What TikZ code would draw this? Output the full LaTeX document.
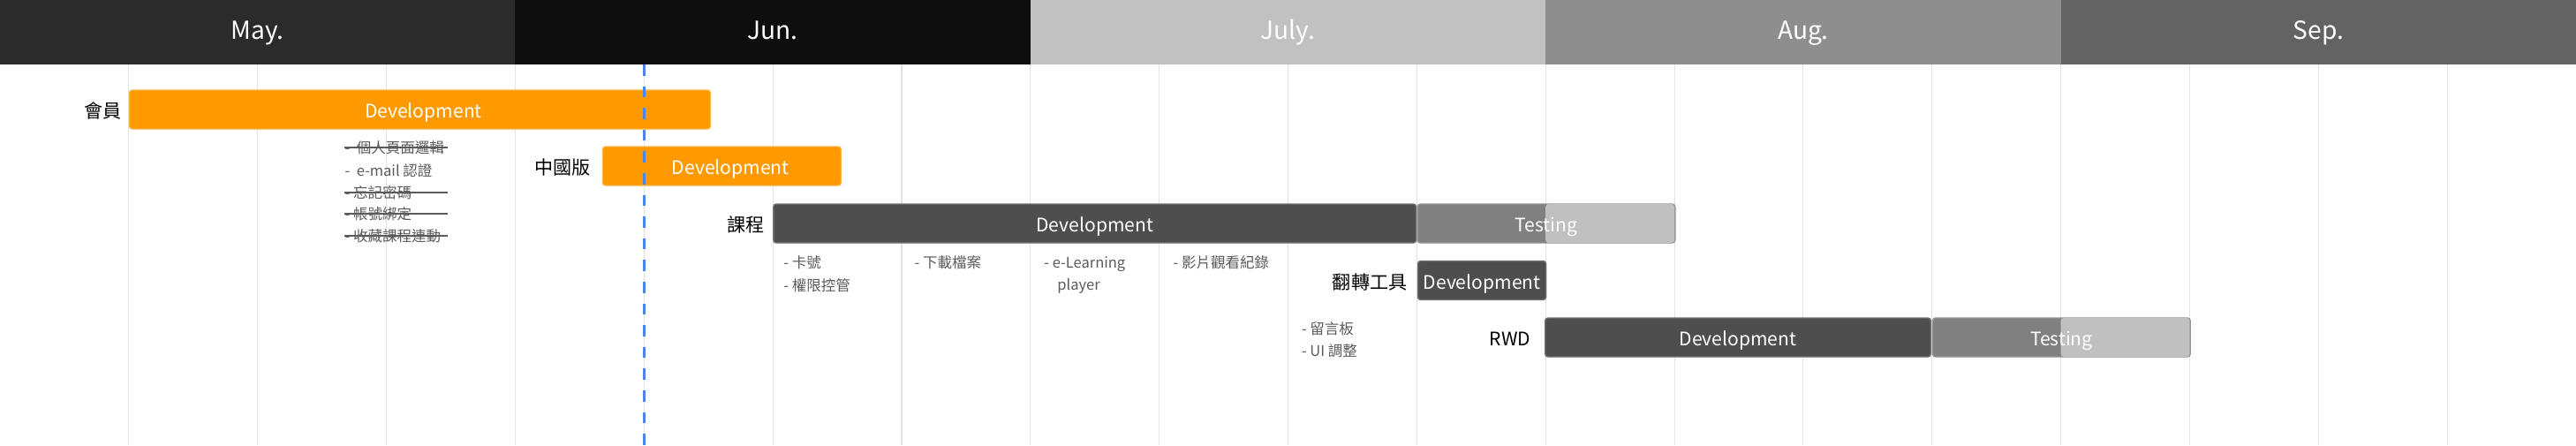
\documentclass[tikz,border=0pt]{standalone}
\usepackage{fontspec}
\setmainfont{Noto Sans CJK TC}
\definecolor{maycol}{HTML}{2B2B2B}
\definecolor{juncol}{HTML}{0E0E0E}
\definecolor{julcol}{HTML}{C1C1C1}
\definecolor{augcol}{HTML}{8E8E8E}
\definecolor{sepcol}{HTML}{636363}
\definecolor{gridgrey}{HTML}{E3E3E3}
\definecolor{todayblue}{HTML}{4A86E8}
\definecolor{barorange}{HTML}{FF9900}
\definecolor{bardark}{HTML}{4E4E4E}
\definecolor{barmid}{HTML}{808080}
\definecolor{barlight}{HTML}{C0C0C0}
\definecolor{notegrey}{HTML}{5A5A5A}
\tikzset{
  monthlabel/.style={anchor=base, text=white, font=\fontsize{8.0}{10}\selectfont},
  gridrule/.style={line width=0.3pt, draw=gridgrey},
  todayrule/.style={line width=0.85pt, draw=todayblue, dash pattern=on 3.6pt off 3.4pt},
  phasebar/.style={anchor=west, rounded corners=0.9pt, inner sep=0, minimum height=0.44cm,
    text=white, font=\fontsize{6.0}{7}\selectfont, text height=5.5pt, text depth=0pt},
  orangebar/.style={phasebar, fill=barorange, draw=barorange!75!white, line width=0.4pt},
  darkbar/.style={phasebar, fill=bardark, draw=bardark!80!white, line width=0.4pt},
  testbar/.style={phasebar, fill=barmid, draw=barmid!85!white, line width=0.4pt},
  testlight/.style={fill=barlight, rounded corners=0.9pt},
  bartext/.style={text=white, inner sep=0, font=\fontsize{6.0}{7}\selectfont, text height=5.5pt, text depth=0pt},
  rowlabel/.style={anchor=east, inner sep=0, font=\fontsize{6.0}{7}\selectfont, text height=6.28pt, text depth=0.72pt},
  noteitem/.style={anchor=west, inner sep=0, text=notegrey, font=\fontsize{4.7}{5}\selectfont, text height=4.14pt, text depth=0.56pt},
  strike/.style={line width=0.45pt, draw=notegrey},
}
\begin{document}
\begin{tikzpicture}
\useasboundingbox (0,0) rectangle (29.170,5.040);
\fill[maycol] (0,4.310) rectangle (5.834,5.040);
\fill[juncol] (5.834,4.310) rectangle (11.668,5.040);
\fill[julcol] (11.668,4.310) rectangle (17.502,5.040);
\fill[augcol] (17.502,4.310) rectangle (23.336,5.040);
\fill[sepcol] (23.336,4.310) rectangle (29.170,5.040);
\node[monthlabel] (may) at (2.917,4.595) {May.};
\node[monthlabel] (jun) at (8.751,4.595) {Jun.};
\node[monthlabel] (jul) at (14.585,4.595) {July.};
\node[monthlabel] (aug) at (20.419,4.595) {Aug.};
\node[monthlabel] (sep) at (26.253,4.595) {Sep.};
\draw[gridrule] (1.459,0) -- (1.459,4.310);
\draw[gridrule] (2.917,0) -- (2.917,4.310);
\draw[gridrule] (4.376,0) -- (4.376,4.310);
\draw[gridrule] (5.834,0) -- (5.834,4.310);
\draw[gridrule] (7.293,0) -- (7.293,4.310);
\draw[gridrule] (8.751,0) -- (8.751,4.310);
\draw[gridrule] (10.210,0) -- (10.210,4.310);
\draw[gridrule] (11.668,0) -- (11.668,4.310);
\draw[gridrule] (13.127,0) -- (13.127,4.310);
\draw[gridrule] (14.585,0) -- (14.585,4.310);
\draw[gridrule] (16.044,0) -- (16.044,4.310);
\draw[gridrule] (17.502,0) -- (17.502,4.310);
\draw[gridrule] (18.961,0) -- (18.961,4.310);
\draw[gridrule] (20.419,0) -- (20.419,4.310);
\draw[gridrule] (21.878,0) -- (21.878,4.310);
\draw[gridrule] (23.336,0) -- (23.336,4.310);
\draw[gridrule] (24.795,0) -- (24.795,4.310);
\draw[gridrule] (26.253,0) -- (26.253,4.310);
\draw[gridrule] (27.712,0) -- (27.712,4.310);
\node[orangebar, minimum width=6.577cm] (memberdev) at (1.459,3.800) {\hspace{0.08cm}Development};
\node[rowlabel] (member) at (1.380,3.800) {會員};
\node[orangebar, minimum width=2.697cm] (chinadev) at (6.818,3.160) {\hspace{0.2cm}Development};
\node[rowlabel] (china) at (6.690,3.160) {中國版};
\node[darkbar, minimum width=7.279cm] (coursedev) at (8.751,2.510) {Development};
\node[testbar, minimum width=2.917cm] (coursetest) at (16.044,2.510) {};
\fill[testlight] (17.502,2.290) rectangle (18.961,2.730);
\node[bartext] (coursetesttext) at (coursetest) {Testing};
\node[rowlabel] (course) at (8.660,2.510) {課程};
\node[darkbar, minimum width=1.452cm] (flipdev) at (16.048,1.865) {Development};
\node[rowlabel] (flip) at (15.940,1.865) {翻轉工具};
\node[darkbar, minimum width=4.367cm] (rwddev) at (17.490,1.220) {Development};
\node[testbar, minimum width=2.917cm] (rwdtest) at (21.878,1.220) {};
\fill[testlight] (23.336,1.000) rectangle (24.795,1.440);
\node[bartext] (rwdtesttext) at (rwdtest) {Testing};
\node[rowlabel] (rwd) at (17.340,1.220) {RWD};
\node[noteitem] (membernote1) at (3.900,3.370) {-\ \ 個人頁面邏輯};
\node[noteitem] (membernote2) at (3.900,3.110) {-\ \ e-mail 認證};
\node[noteitem] (membernote3) at (3.900,2.860) {- 忘記密碼};
\node[noteitem] (membernote4) at (3.900,2.620) {- 帳號綁定};
\node[noteitem] (membernote5) at (3.900,2.370) {- 收藏課程連動};
\draw[strike] (membernote1.west) -- ++(1.170,0);
\draw[strike] (membernote3.west) -- ++(1.170,0);
\draw[strike] (membernote4.west) -- ++(1.170,0);
\draw[strike] (membernote5.west) -- ++(1.170,0);
\node[noteitem] (coursenote1) at (8.867,2.070) {- 卡號};
\node[noteitem] (coursenote2) at (8.867,1.810) {- 權限控管};
\node[noteitem] (coursenote3) at (10.350,2.070) {- 下載檔案};
\node[noteitem] (coursenote4) at (11.817,2.070) {- e-Learning};
\node[noteitem] (coursenote5) at (11.967,1.820) {player};
\node[noteitem] (coursenote6) at (13.280,2.070) {- 影片觀看紀錄};
\node[noteitem] (rwdnote1) at (14.733,1.323) {- 留言板};
\node[noteitem] (rwdnote2) at (14.733,1.073) {- UI 調整};
\draw[todayrule] (7.293,4.310) -- (7.293,0);
\end{tikzpicture}
\end{document}
